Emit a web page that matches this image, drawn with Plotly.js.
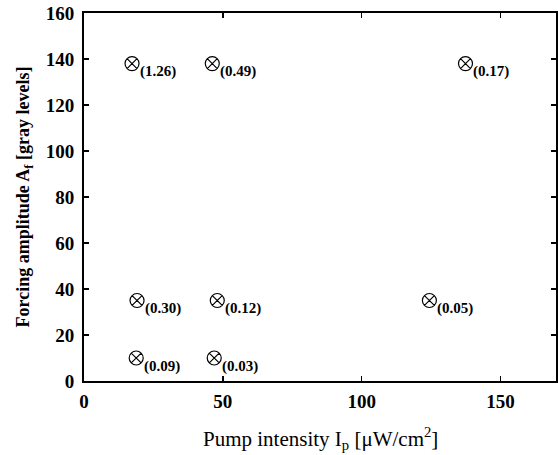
<!DOCTYPE html>
<html>
<head>
<meta charset="utf-8">
<script src="https://cdn.plot.ly/plotly-3.0.1.min.js"></script>
<style>html,body{margin:0;padding:0;background:#fff;}#chart{width:558px;height:455px;}</style>
</head>
<body>
<div id="chart"></div>
<script>
// Data
const pumpIntensity = [17.3, 46.2, 137.4, 19.1, 48.0, 124.4, 18.8, 46.9];
const forcingAmplitude = [138, 138, 138, 35, 35, 35, 10, 10];
const pointLabels = ['(1.26)', '(0.49)', '(0.17)', '(0.30)', '(0.12)', '(0.05)', '(0.09)', '(0.03)'];
const xTicks = [0, 50, 100, 150];
const yTicks = [0, 20, 40, 60, 80, 100, 120, 140, 160];
const xTitle = 'Pump intensity I<sub>p</sub> [μW/cm<sup>2</sup>]';
const yTitle = 'Forcing amplitude A<sub>f</sub> [gray levels]';

const serif = 'Liberation Serif, Times New Roman, serif';

const trace = {
  x: pumpIntensity,
  y: forcingAmplitude,
  mode: 'markers',
  type: 'scatter',
  marker: {symbol: 'circle-x-open', size: 14, color: '#000', line: {width: 1.2, color: '#000'}},
  cliponaxis: false,
  hoverinfo: 'none'
};

const annotations = pointLabels.map((t, i) => ({
  x: pumpIntensity[i],
  y: forcingAmplitude[i],
  xref: 'x', yref: 'y',
  text: t,
  showarrow: false,
  xanchor: 'left',
  yanchor: 'middle',
  xshift: 6,
  yshift: -8,
  font: {family: serif, size: 15, color: '#000', weight: 'bold'}
}));

annotations.push({
  x: 0.5, y: 0, xref: 'paper', yref: 'paper',
  text: xTitle, showarrow: false,
  xanchor: 'center', yanchor: 'top', yshift: -41,
  font: {family: serif, size: 21, color: '#000'}
});

const axisCommon = {
  showgrid: false,
  zeroline: false,
  showline: true,
  mirror: 'ticks',
  linecolor: '#000',
  linewidth: 2,
  ticks: 'inside',
  ticklen: 5,
  tickwidth: 1.5,
  tickcolor: '#000',
  tickfont: {family: serif, size: 19, color: '#000', weight: 'bold'}
};

const layout = {
  width: 558,
  height: 455,
  margin: {l: 84, r: 2, t: 13, b: 74},
  paper_bgcolor: '#fff',
  plot_bgcolor: '#fff',
  showlegend: false,
  annotations: annotations,
  xaxis: Object.assign({}, axisCommon, {
    range: [0, 170],
    tickvals: xTicks,
    ticktext: xTicks.map(String),
    ticklabelstandoff: 2
  }),
  yaxis: Object.assign({}, axisCommon, {
    range: [0, 160],
    tickvals: yTicks,
    ticktext: yTicks.map(String),
    ticklabelstandoff: 4,
    title: {text: yTitle, font: {family: serif, size: 18, color: '#000', weight: 'bold'}, standoff: 11}
  })
};

Plotly.newPlot('chart', [trace], layout, {staticPlot: true, displayModeBar: false});
</script>
</body>
</html>
